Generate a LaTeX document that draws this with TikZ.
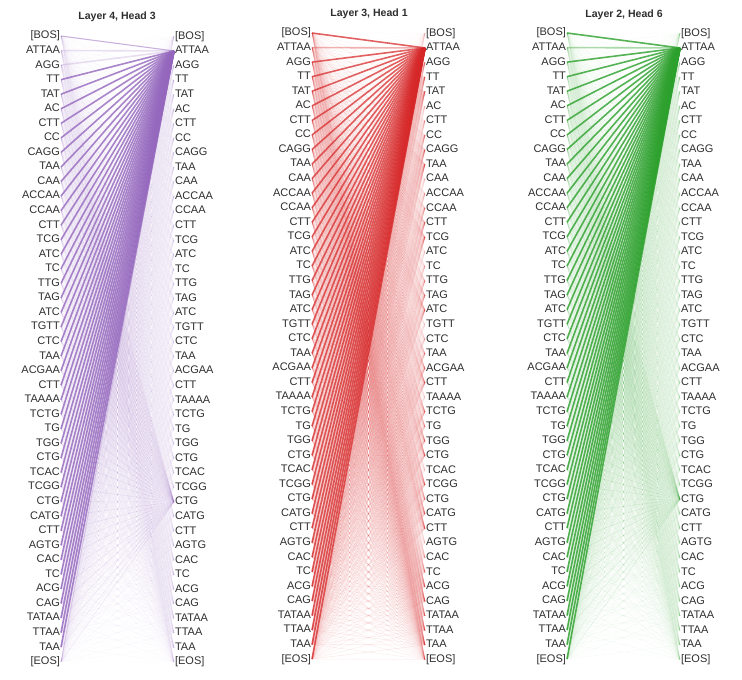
\documentclass[tikz,border=0pt]{standalone}
\usepackage{fontspec}
\setmainfont{Liberation Sans}
\usepackage{xcolor}
\usepackage{tikz}
\usetikzlibrary{positioning}
\definecolor{atInk}{HTML}{2E2E2E}
\definecolor{atPurple}{HTML}{9467BD}
\definecolor{atRed}{HTML}{D62728}
\definecolor{atGreen}{HTML}{2CA02C}
\newcommand{\seqtokens}{{[BOS]},ATTAA,AGG,TT,TAT,AC,CTT,CC,CAGG,TAA,CAA,ACCAA,CCAA,CTT,TCG,ATC,TC,TTG,TAG,ATC,TGTT,CTC,TAA,ACGAA,CTT,TAAAA,TCTG,TG,TGG,CTG,TCAC,TCGG,CTG,CATG,CTT,AGTG,CAC,TC,ACG,CAG,TATAA,TTAA,TAA,{[EOS]}}
\tikzset{
  ttl/.style={font=\fontsize{7.9}{9}\selectfont\bfseries,text=atInk},
  tokl/.style={anchor=east,inner xsep=0.6pt,inner ysep=0pt,
    text height=6pt,text depth=1.6pt,
    font=\fontsize{8.25}{9}\selectfont,text=atInk},
  tokr/.style={tokl,anchor=west},
  bgln/.style={line width=0.4pt},
  attn/.style={line width=1.2pt},
}

\begin{document}
\begin{tikzpicture}[x=0.75pt,y=-0.75pt]
  \useasboundingbox (0,0) rectangle (742,679);

  % token columns
  \foreach \t [count=\i from 0] in \seqtokens {
    \node[tokl] (l1-\i) at (61,36+14.55*\i) {\t};
    \node[tokr] (r1-\i) at (174,36.4+14.55*\i) {\t};
    \node[tokl] (l2-\i) at (312,33+14.56*\i) {\t};
    \node[tokr] (r2-\i) at (425,33.4+14.56*\i) {\t};
    \node[tokl] (l3-\i) at (567,33+14.56*\i) {\t};
    \node[tokr] (r3-\i) at (680,33.4+14.56*\i) {\t};
  }
  \node[ttl] (h1) at (117,17) {Layer 4, Head 3};
  \node[ttl] (h2) at (369,14) {Layer 3, Head 1};
  \node[ttl] (h3) at (624,14.5) {Layer 2, Head 6};

  % faint attention, every pair
  \foreach \i in {0,...,43} {
    \foreach \j in {0,...,43} {
      \pgfmathsetmacro\wa{0.010+0.010*mod(\i*7+\j*13,5)}
      \pgfmathsetmacro\wb{0.025+0.016*mod(\i*5+\j*11,5)}
      \pgfmathsetmacro\wc{0.012+0.010*mod(\i*3+\j*7,5)}
      \draw[bgln,atPurple,opacity=\wa] (l1-\i.east) -- (r1-\j.west);
      \draw[bgln,atRed,opacity=\wb] (l2-\i.east) -- (r2-\j.west);
      \draw[bgln,atGreen,opacity=\wc] (l3-\i.east) -- (r3-\j.west);
    }
  }

  % secondary targets
  \foreach \i in {4,...,43} {
    \draw[bgln,atPurple,opacity=0.12] (l1-\i.east) -- (r1-32.west);
    \draw[bgln,atGreen,opacity=0.10] (l3-\i.east) -- (r3-32.west);
  }
  \foreach \i in {0,...,43} {
    \foreach \j in {26,31,40,41,42} {
      \draw[bgln,atRed,opacity=0.045] (l2-\i.east) -- (r2-\j.west);
    }
  }

  % main attention onto ATTAA
  \draw[attn,atPurple,opacity=0.5,line width=0.8pt] (l1-0.east) -- (r1-1.west);
  \draw[attn,atPurple,opacity=0.2] (l1-1.east) -- (r1-1.west);
  \draw[attn,atPurple,opacity=0.2] (l1-2.east) -- (r1-1.west);
  \foreach \i in {3,...,42} {
    \draw[attn,atPurple,opacity=0.8] (l1-\i.east) -- (r1-1.west);
  }
  \draw[attn,atPurple,opacity=0.25,line width=0.6pt] (l1-43.east) -- (r1-1.west);
  \draw[attn,atRed,opacity=0.35] (l2-1.east) -- (r2-1.west);
  \draw[attn,atGreen,opacity=0.4] (l3-1.east) -- (r3-1.west);
  \foreach \i in {0,2,3,...,43} {
    \draw[attn,atRed,opacity=0.72] (l2-\i.east) -- (r2-1.west);
    \draw[attn,atGreen,opacity=0.8] (l3-\i.east) -- (r3-1.west);
  }
\end{tikzpicture}
\end{document}
